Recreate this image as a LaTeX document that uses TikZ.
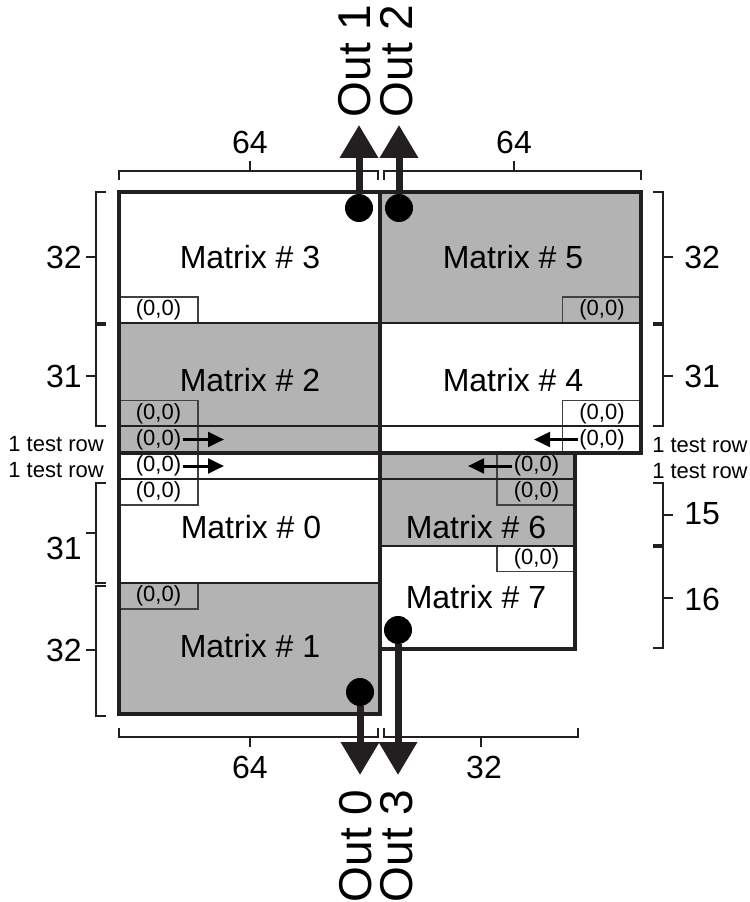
\documentclass[tikz,border=0pt]{standalone}
\usepackage{fontspec}
\setmainfont{Liberation Sans}
\usetikzlibrary{arrows.meta}
\definecolor{mxline}{HTML}{231F20}
\definecolor{mxgray}{HTML}{B3B3B3}
\definecolor{mxthin}{HTML}{404040}

\begin{document}
\begin{tikzpicture}[x=0.75pt, y=-0.75pt,
        bigfont/.style={font=\fontsize{24}{28}\selectfont},
        smallfont/.style={font=\fontsize{16.5}{19}\selectfont},
        outfont/.style={font=\fontsize{34.5}{40}\selectfont},
        frame/.style={draw=mxline, line width=3.4pt},
        divide/.style={draw=mxline, line width=1.9pt},
        brk/.style={draw=mxline, line width=1.5pt},
        zero/.style={draw=mxthin, line width=0.9pt, minimum width=59.25pt,
          minimum height=19.5pt, inner sep=0pt, smallfont},
        zerotext/.style={inner sep=1pt, smallfont},
        dot/.style={circle, fill=black, minimum size=21pt, inner sep=0pt},
        outarr/.style={-{Triangle[length=24.75pt,width=27.75pt]}, draw=mxline, line width=5.25pt},
        testarr/.style={-{Triangle[length=12pt,width=11pt]}, draw=black, line width=2.25pt}]
        \useasboundingbox (0,0) rectangle (749,902);
        % gray matrices
        \fill[mxgray] (380,192) rectangle (641,323);
        \fill[mxgray] (119,323) rectangle (380,453);
        \fill[mxgray] (380,453) rectangle (575,546);
        \fill[mxgray] (119,583) rectangle (380,714);
        % origin boxes
        \node[zero] (z3) at (158.5,310) {(0,0)};
        \node[zero] (z2) at (158.5,413.5) {(0,0)};
        \node[zero] (zt2) at (158.5,439.5) {};
        \node[zero] (zt0) at (158.5,466) {};
        \node[zero] (z0) at (158.5,492) {(0,0)};
        \node[zero] (z1) at (158.5,596) {(0,0)};
        \node[zero] (z5) at (602,310) {(0,0)};
        \node[zero] (z4) at (602,413.5) {(0,0)};
        \node[zero] (zt4) at (602,439.5) {};
        \node[zero] (zt6) at (536.5,466) {};
        \node[zero] (z6) at (536.5,492) {(0,0)};
        \node[zero] (z7) at (536.5,558.5) {(0,0)};
        % test rows
        \node[zerotext] (tt2) at (zt2) {(0,0)};
        \node[zerotext] (tt0) at (zt0) {(0,0)};
        \node[zerotext] (tt4) at (zt4) {(0,0)};
        \node[zerotext] (tt6) at (zt6) {(0,0)};
        \coordinate (a2) at (224,439.5);
        \coordinate (a0) at (224,466);
        \coordinate (a4) at (534,439.5);
        \coordinate (a6) at (468,466);
        \draw[testarr] (tt2) -- (a2);
        \draw[testarr] (tt0) -- (a0);
        \draw[testarr] (tt4) -- (a4);
        \draw[testarr] (tt6) -- (a6);
        % dividers and frames
        \draw[divide] (119,323) -- (641,323);
        \draw[divide, line width=1.5pt] (119,426) -- (641,426);
        \draw[divide, line width=1.5pt] (119,479) -- (575,479);
        \draw[divide] (119,583) -- (380,583);
        \draw[divide, line width=2.2pt] (380,546) -- (575,546);
        \draw[frame, line width=2.8pt] (119,453) -- (641,453);
        \draw[frame] (119,192) rectangle (380,714);
        \draw[frame] (380,192) rectangle (641,453);
        \draw[frame] (380,453) rectangle (575,649);
        % matrix names
        \node[bigfont] (m3) at (250,257) {Matrix \# 3};
        \node[bigfont] (m5) at (513,257) {Matrix \# 5};
        \node[bigfont] (m2) at (250,380) {Matrix \# 2};
        \node[bigfont] (m4) at (513,380) {Matrix \# 4};
        \node[bigfont] (m0) at (251,527) {Matrix \# 0};
        \node[bigfont] (m6) at (476,527) {Matrix \# 6};
        \node[bigfont] (m7) at (476,597) {Matrix \# 7};
        \node[bigfont] (m1) at (250,646) {Matrix \# 1};
        % side brackets
        \foreach \ya/\yb/\yt/\yl/\num [count=\i] in {192/323/257/257/32, 325/426/376/376/31,
            483/583/533/548/31, 586/716/650/650/32}{
          \draw[brk] (106,\ya) -- (96,\ya) -- (96,\yb) -- (106,\yb) (96,\yt) -- (86,\yt);
          \node[bigfont, anchor=east, inner sep=0pt] (ln\i) at (82,\yl) {\num};
        }
        \foreach \ya/\yb/\yt/\yl/\num [count=\i] in {192/323/257/257/32, 325/426/376/376/31,
            483/545/515/514/15, 547/648/598/599/16}{
          \draw[brk] (653,\ya) -- (663,\ya) -- (663,\yb) -- (653,\yb) (663,\yt) -- (673,\yt);
          \node[bigfont, anchor=west, inner sep=0pt] (rn\i) at (684,\yl) {\num};
        }
        \node[smallfont, anchor=east, inner sep=0pt] (lt2) at (104,444) {1 test row};
        \node[smallfont, anchor=east, inner sep=0pt] (lt0) at (104,470) {1 test row};
        \node[smallfont, anchor=west, inner sep=0pt] (rt4) at (652,445) {1 test row};
        \node[smallfont, anchor=west, inner sep=0pt] (rt6) at (652,471) {1 test row};
        % width brackets
        \draw[brk] (119,180) -- (119,171) -- (378,171) -- (378,180) (250,171) -- (250,161);
        \draw[brk] (384,180) -- (384,171) -- (641,171) -- (641,180) (514,171) -- (514,161);
        \draw[brk] (119,728) -- (119,737) -- (378,737) -- (378,728) (250,737) -- (250,747);
        \draw[brk] (384,728) -- (384,737) -- (578,737) -- (578,728) (481,737) -- (481,747);
        \node[bigfont] (w3) at (250,142) {64};
        \node[bigfont] (w5) at (514,142) {64};
        \node[bigfont] (w1) at (250,767) {64};
        \node[bigfont] (w7) at (484,767) {32};
        % outputs
        \node[dot] (d1) at (359,208) {};
        \node[dot] (d2) at (399,208) {};
        \node[dot] (d0) at (360,692) {};
        \node[dot] (d3) at (398,630) {};
        \coordinate (o1) at (359,125);
        \coordinate (o2) at (399,125);
        \coordinate (o0) at (360,775);
        \coordinate (o3) at (398,775);
        \draw[outarr] (d1) -- (o1);
        \draw[outarr] (d2) -- (o2);
        \draw[outarr] (d0) -- (o0);
        \draw[outarr] (d3) -- (o3);
        \node[outfont, rotate=90] (t1) at (355,61) {Out 1};
        \node[outfont, rotate=90] (t2) at (397,61) {Out 2};
        \node[outfont, rotate=90] (t0) at (356,846) {Out 0};
        \node[outfont, rotate=90] (t3) at (397,846) {Out 3};
      \end{tikzpicture}
\end{document}
